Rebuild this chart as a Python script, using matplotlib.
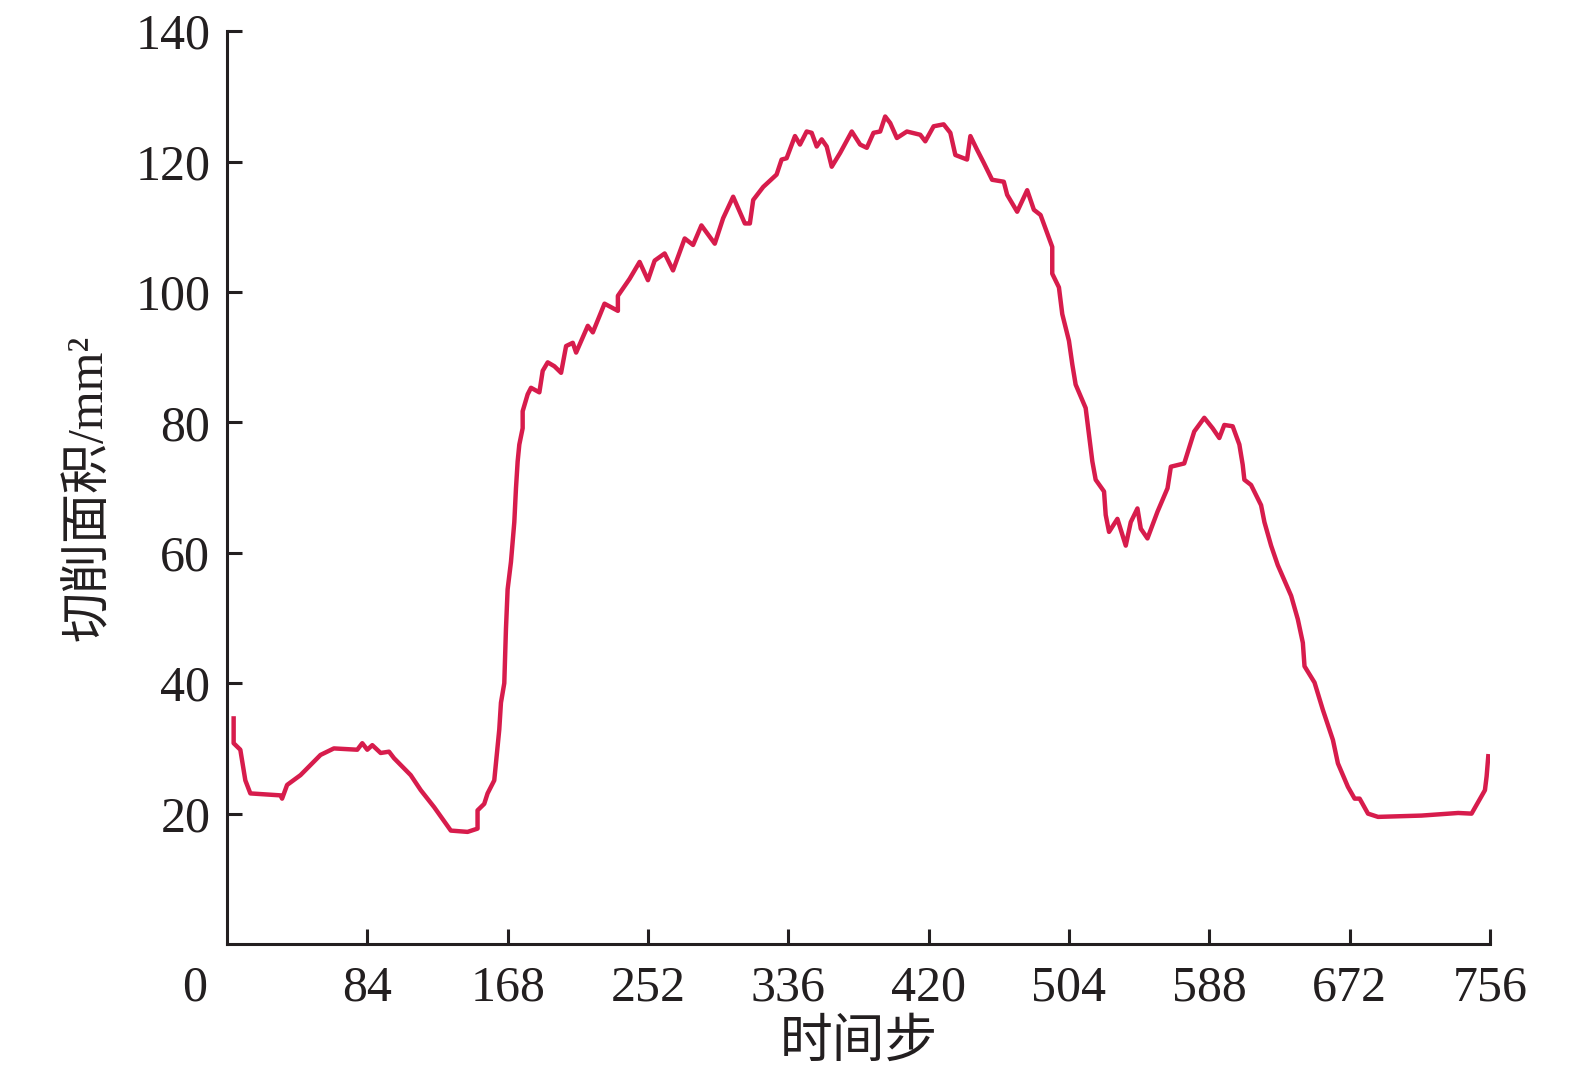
import matplotlib
matplotlib.use('Agg')
import matplotlib.pyplot as plt

# (time step vs cutting area, mm^2)
time_step = [4, 4, 8, 11, 14, 32, 33, 36, 44, 56,
             64, 78, 81, 84, 87, 92, 97, 100, 110, 116,
             124, 134, 144, 150, 150, 154, 156, 160, 161, 163,
             164, 166, 167, 168, 170, 172, 173, 174, 175, 177,
             177, 180, 182, 187, 189, 192, 196, 200, 203, 207,
             209, 216, 219, 226, 234, 234, 241, 247, 252, 256,
             262, 267, 274, 279, 284, 292, 297, 303, 310, 313,
             315, 321, 329, 332, 335, 340, 343, 347, 350, 353,
             356, 359, 362, 367, 374, 379, 383, 387, 391, 394,
             397, 401, 407, 415, 418, 423, 429, 433, 436, 443,
             445, 449, 453, 458, 465, 467, 473, 479, 483, 487,
             491, 494, 494, 498, 500, 504, 506, 508, 514, 516,
             518, 520, 525, 526, 528, 533, 538, 541, 545, 547,
             551, 557, 563, 565, 573, 579, 585, 590, 594, 597,
             602, 606, 608, 609, 613, 619, 621, 625, 629, 637,
             641, 644, 645, 651, 656, 662, 665, 671, 675, 678,
             683, 689, 715, 737, 745, 749, 753, 754, 755]
cut_area = [34.6, 30.8, 29.8, 25.1, 23.1, 22.8, 22.3, 24.4, 25.9, 29.0,
            30.0, 29.8, 30.8, 29.8, 30.5, 29.3, 29.5, 28.5, 25.9, 23.6,
            21.0, 17.4, 17.2, 17.7, 20.5, 21.5, 23.1, 25.1, 27.7, 32.9,
            37.0, 40.0, 48.3, 54.4, 58.6, 64.7, 69.9, 74.0, 76.6, 79.1,
            81.7, 84.3, 85.3, 84.6, 87.9, 89.2, 88.6, 87.6, 91.7, 92.2,
            90.7, 94.8, 93.8, 98.2, 97.1, 99.4, 102.0, 104.6, 101.8, 104.8,
            105.9, 103.3, 108.2, 107.2, 110.2, 107.4, 111.3, 114.6, 110.5, 110.5,
            114.1, 116.1, 118.0, 120.3, 120.5, 123.9, 122.6, 124.6, 124.4, 122.3,
            123.4, 122.3, 119.2, 121.3, 124.6, 122.6, 122.1, 124.4, 124.6, 126.9,
            125.9, 123.6, 124.6, 124.1, 123.1, 125.4, 125.7, 124.4, 121.0, 120.3,
            123.9, 121.8, 119.8, 117.2, 116.9, 114.9, 112.3, 115.6, 112.6, 111.8,
            109.0, 106.9, 102.8, 100.7, 96.6, 92.5, 88.9, 85.8, 82.2, 78.1,
            74.0, 71.2, 69.4, 65.8, 63.2, 65.2, 61.1, 64.7, 66.8, 63.7,
            62.2, 66.3, 69.9, 73.2, 73.7, 78.6, 80.7, 79.1, 77.6, 79.6,
            79.4, 76.6, 73.5, 71.2, 70.4, 67.3, 64.7, 61.1, 58.1, 53.4,
            49.8, 46.2, 42.6, 40.1, 35.9, 31.3, 27.7, 24.1, 22.3, 22.3,
            20.0, 19.5, 19.7, 20.1, 20.0, 21.8, 23.6, 25.7, 28.8]

x_ticks = [84, 168, 252, 336, 420, 504, 588, 672, 756]
y_ticks = [20, 40, 60, 80, 100, 120, 140]

LINE_COL = '#d71c4c'
TXT = '#231f20'
FAM = ['Liberation Serif', 'Noto Sans CJK SC', 'DejaVu Sans']

plt.rcParams.update({
    'font.family': FAM,
    'axes.spines.top': False, 'axes.spines.right': False,
})

fig = plt.figure(figsize=(15.75, 10.83), dpi=100)
ax = fig.add_axes([0.1441, 0.1283, 0.8019, 0.8430])

ax.plot(time_step, cut_area, color=LINE_COL, lw=3.2, solid_joinstyle='round')

ax.set_xlim(0, 756)
ax.set_ylim(0, 140)
ax.set_xticks(x_ticks)
ax.set_yticks(y_ticks)
ax.tick_params(direction='in', length=11, width=2.2, colors=TXT,
               labelsize=36)
ax.tick_params(axis='x', pad=15)
ax.tick_params(axis='y', pad=12)
for sp in ('left', 'bottom'):
    ax.spines[sp].set_linewidth(2.2)
    ax.spines[sp].set_color(TXT)

# shared origin label
ax.annotate('0', xy=(0, 0), xycoords='data', xytext=(-23, -15),
            textcoords='offset points', ha='center', va='top',
            fontsize=36, color=TXT)

ax.set_xlabel('时间步', fontsize=38, color=TXT, labelpad=6)
ax.set_ylabel('切削面积/mm²', fontsize=36, color=TXT, labelpad=16)

fig.savefig('out.png', dpi=100)
